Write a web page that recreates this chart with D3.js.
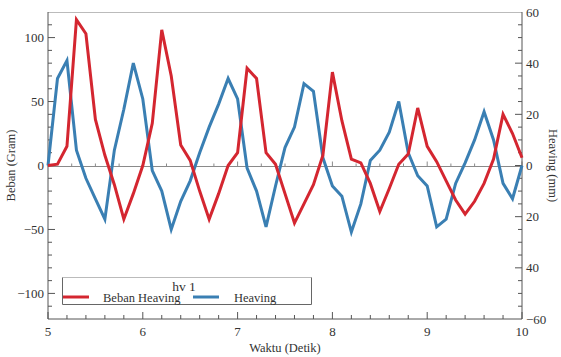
<!DOCTYPE html>
<html>
<head>
<meta charset="utf-8">
<script src="https://cdn.jsdelivr.net/npm/d3@7"></script>
<style>
  html, body { margin: 0; padding: 0; background: #fff; }
  svg { display: block; font-family: "Liberation Serif", "Times New Roman", serif; }
</style>
</head>
<body>
<svg id="chart" width="561" height="357"></svg>
<script>
// Time samples (s), every 0.1 s from 5.0 to 10.0
const waktu = d3.range(51).map(i => +(5 + i * 0.1).toFixed(1));

// Load (gram), left axis
const beban = [
  0, 1, 15, 114, 103, 36, 8, -15, -42, -22,
  0, 33, 106, 70, 16, 4, -20, -42, -22, 0,
  10, 76, 68, 10, 1, -22, -45, -30, -15, 8,
  73, 35, 5, 2, -14, -36, -18, 1, 9, 45,
  15, 3, -12, -27, -38, -28, -14, 5, 40, 25,
  6
];

// Heave (mm), right axis
const heaving = [
  0, 34, 41, 6, -5, -13, -21, 6, 22, 40,
  26, -2, -10, -25, -14, -6, 5, 15, 24, 34,
  26, -1, -10, -24, -8, 7, 15, 32, 29, 3,
  -8, -12, -26, -15, 2, 6, 13, 25, 5, -4,
  -8, -24, -21, -7, 1, 10, 21, 10, -7, -13,
  0
];

const xTicks = [5, 6, 7, 8, 9, 10];
const leftTicks = [-100, -50, 0, 50, 100];
const rightTicks = [-60, -40, -20, 0, 20, 40, 60];
const rightTickLabels = ["\u221260", "40", "20", "0", "20", "40", "60"];

const seriesNames = ["Beban Heaving", "Heaving"];
const legendTitle = "hv 1";
const colors = ["#d42630", "#3a7fb3"];

const svg = d3.select("#chart");
const m = { left: 48, right: 39, top: 12, bottom: 38 };
const W = 561, H = 357;
const x0 = m.left, x1 = W - m.right, y0 = m.top, y1 = H - m.bottom;

const x = d3.scaleLinear().domain([5, 10]).range([x0, x1]);
const yL = d3.scaleLinear().domain([-120, 120]).range([y1, y0]);
const yR = d3.scaleLinear().domain([-60, 60]).range([y1, y0]);

const axisCol = "#555";

// Frame: top edge lighter
svg.append("line").attr("x1", x0).attr("x2", x1).attr("y1", y0 + 0.5).attr("y2", y0 + 0.5)
  .attr("stroke", "#bbb").attr("stroke-width", 1);

// Zero axis through the plot
const zy = Math.round(yL(0)) + 0.5;
svg.append("line").attr("x1", x0).attr("x2", x1).attr("y1", zy).attr("y2", zy)
  .attr("stroke", "#8a8a8a").attr("stroke-width", 1);
d3.range(5, 10.001, 0.25).forEach(t => {
  const major = Math.abs(t - Math.round(t)) < 1e-6;
  svg.append("line").attr("x1", x(t)).attr("x2", x(t))
    .attr("y1", zy).attr("y2", zy - (major ? 5 : 3))
    .attr("stroke", "#8a8a8a").attr("stroke-width", 1);
});

// Bottom axis (ticks pointing inward)
const gx = svg.append("g").attr("transform", `translate(0,${y1})`);
gx.append("line").attr("x1", x0).attr("x2", x1).attr("stroke", axisCol);
d3.range(5, 10.001, 0.2).forEach(t => {
  const major = Math.abs(t - Math.round(t)) < 1e-6;
  gx.append("line").attr("x1", x(t)).attr("x2", x(t))
    .attr("y1", 0).attr("y2", major ? -7 : -4).attr("stroke", axisCol);
});
gx.selectAll("text.xt").data(xTicks).join("text").attr("class", "xt")
  .attr("x", d => x(d)).attr("y", 17).attr("text-anchor", "middle")
  .attr("font-size", 13).attr("fill", "#333").text(d => d);

// Left axis
const gl = svg.append("g").attr("transform", `translate(${x0},0)`);
gl.append("line").attr("y1", y0).attr("y2", y1).attr("stroke", axisCol);
d3.range(-110, 111, 10).forEach(v => {
  const major = v % 50 === 0;
  gl.append("line").attr("x1", 0).attr("x2", major ? 7 : 4)
    .attr("y1", yL(v)).attr("y2", yL(v)).attr("stroke", axisCol);
});
gl.selectAll("text").data(leftTicks).join("text")
  .attr("x", -4).attr("y", d => yL(d) + 4.5).attr("text-anchor", "end")
  .attr("font-size", 13).attr("fill", "#333")
  .text(d => d < 0 ? "\u2212" + Math.abs(d) : d);

// Right axis
const gr = svg.append("g").attr("transform", `translate(${x1},0)`);
gr.append("line").attr("y1", y0).attr("y2", y1).attr("stroke", axisCol);
d3.range(-55, 56, 5).forEach(v => {
  const major = v % 20 === 0;
  gr.append("line").attr("x1", 0).attr("x2", major ? -7 : -4)
    .attr("y1", yR(v)).attr("y2", yR(v)).attr("stroke", axisCol);
});
gr.selectAll("text").data(rightTicks).join("text")
  .attr("x", 4).attr("y", d => yR(d) + 4.5).attr("text-anchor", "start")
  .attr("font-size", 13).attr("fill", "#333")
  .text((d, i) => rightTickLabels[i]);

// Axis titles
svg.append("text").attr("transform", `translate(15,${(y0 + y1) / 2}) rotate(-90)`)
  .attr("text-anchor", "middle").attr("font-size", 12.5).attr("fill", "#333").text("Beban (Gram)");
svg.append("text").attr("transform", `translate(549,${(y0 + y1) / 2}) rotate(90)`)
  .attr("text-anchor", "middle").attr("font-size", 12.5).attr("fill", "#333").text("Heaving (mm)");
svg.append("text").attr("x", (x0 + x1) / 2).attr("y", 352)
  .attr("text-anchor", "middle").attr("font-size", 12.5).attr("fill", "#333").text("Waktu (Detik)");

// Series
const data = waktu.map((t, i) => ({ t, b: beban[i], h: heaving[i] }));
svg.append("path").datum(data)
  .attr("fill", "none").attr("stroke", colors[1]).attr("stroke-width", 3)
  .attr("stroke-linejoin", "miter")
  .attr("d", d3.line().x(d => x(d.t)).y(d => yR(d.h)));
svg.append("path").datum(data)
  .attr("fill", "none").attr("stroke", colors[0]).attr("stroke-width", 3)
  .attr("stroke-linejoin", "miter")
  .attr("d", d3.line().x(d => x(d.t)).y(d => yL(d.b)));

// Legend
const lg = svg.append("g");
const lx0 = 62.5, lx1 = 311.5, ly0 = 277.5, ly1 = 304.5;
lg.append("rect").attr("x", lx0).attr("y", ly0).attr("width", lx1 - lx0).attr("height", ly1 - ly0)
  .attr("fill", "#fff").attr("stroke", "none");
lg.append("line").attr("x1", lx0).attr("x2", lx1).attr("y1", ly0).attr("y2", ly0).attr("stroke", "#bbb");
lg.append("polyline").attr("points", `${lx0},${ly0} ${lx0},${ly1} ${lx1},${ly1} ${lx1},${ly0}`)
  .attr("fill", "none").attr("stroke", "#666");
lg.append("text").attr("x", 184).attr("y", 291).attr("text-anchor", "middle")
  .attr("font-size", 13.5).attr("fill", "#333").text(legendTitle);
const items = [
  { name: seriesNames[0], color: colors[0], lx: 63, tx: 103 },
  { name: seriesNames[1], color: colors[1], lx: 193, tx: 234 }
];
items.forEach(it => {
  lg.append("line").attr("x1", it.lx).attr("x2", it.lx + 26).attr("y1", 297).attr("y2", 297)
    .attr("stroke", it.color).attr("stroke-width", 3);
  lg.append("text").attr("x", it.tx).attr("y", 301.5).attr("font-size", 12.5)
    .attr("fill", "#333").text(it.name);
});
</script>
</body>
</html>
